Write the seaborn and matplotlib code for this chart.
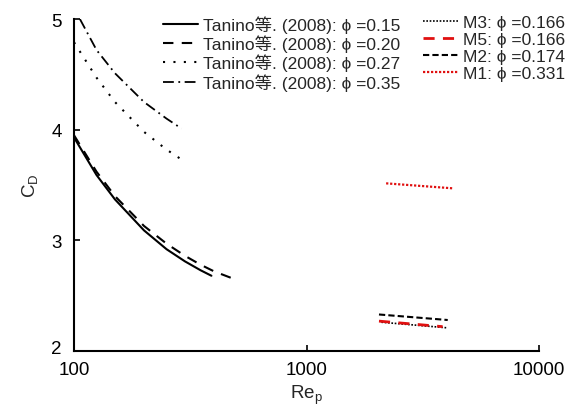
import matplotlib
matplotlib.use("Agg")
import matplotlib.pyplot as plt
import matplotlib.transforms as mtransforms
import seaborn as sns
import pandas as pd

# ---- data ----
re_015 = [100, 125, 150, 200, 250, 300, 350, 390]
cd_015 = [3.93, 3.59, 3.37, 3.09, 2.92, 2.81, 2.73, 2.68]

re_020 = [100, 125, 150, 200, 250, 300, 350, 400, 475]
cd_020 = [3.95, 3.62, 3.40, 3.13, 2.97, 2.86, 2.78, 2.72, 2.66]

re_027 = [100, 125, 150, 200, 250, 300]
cd_027 = [4.79, 4.47, 4.25, 3.98, 3.82, 3.71]

re_035 = [106, 125, 150, 200, 250, 290]
cd_035 = [5.00, 4.72, 4.51, 4.25, 4.10, 4.01]

re_m3 = [2100, 4000]
cd_m3 = [2.26, 2.21]

re_m5 = [2050, 3850]
cd_m5 = [2.27, 2.22]

re_m2 = [2050, 4050]
cd_m2 = [2.33, 2.28]

re_m1 = [2200, 4250]
cd_m1 = [3.515, 3.47]

x_ticks = [100, 1000, 10000]
x_tick_labels = ["100", "1000", "10000"]
y_ticks = [2, 3, 4, 5]

sns.set_theme(style="ticks")
plt.rcParams['font.family'] = ['Liberation Sans', 'Noto Sans CJK SC', 'DejaVu Sans']
plt.rcParams['mathtext.fontset'] = 'custom'
plt.rcParams['mathtext.rm'] = 'Liberation Sans'
plt.rcParams['mathtext.it'] = 'Liberation Sans:italic'
plt.rcParams['mathtext.sf'] = 'Liberation Sans'

fig = plt.figure(figsize=(5.78, 4.06), dpi=100)
ax = fig.add_axes([74/578, 1-352/406, (539-74)/578, (352-20)/406])

PHI = "\u03d5"
series = [
    (re_015, cd_015, f"Tanino等. (2008): {PHI} =0.15", dict(color='black', lw=1.5, ls='-')),
    (re_020, cd_020, f"Tanino等. (2008): {PHI} =0.20", dict(color='black', lw=1.5, ls=(0, (5, 4)))),
    (re_027, cd_027, f"Tanino等. (2008): {PHI} =0.27", dict(color='black', lw=1.5, ls=(0, (1, 4)))),
    (re_035, cd_035, f"Tanino等. (2008): {PHI} =0.35", dict(color='black', lw=1.3, ls=(0, (6, 2.5, 1, 2.5)))),
    (re_m3, cd_m3, f"M3: {PHI} =0.166", dict(color='black', lw=1.2, ls=(0, (1, 1)))),
    (re_m5, cd_m5, f"M5: {PHI} =0.166", dict(color='#e01010', lw=2.0, ls=(0, (4, 3)))),
    (re_m2, cd_m2, f"M2: {PHI} =0.174", dict(color='black', lw=1.5, ls=(0, (3, 1.5)))),
    (re_m1, cd_m1, f"M1: {PHI} =0.331", dict(color='#e01010', lw=1.6, ls=(0, (1, 0.8)))),
]

for xs, ys, lab, st in series:
    df = pd.DataFrame({"Re": xs, "CD": ys})
    sns.lineplot(data=df, x="Re", y="CD", ax=ax, label=lab, sort=False, **st)

ax.set_xscale('log')
ax.set_xlim(100, 10000)
ax.set_ylim(2, 5)
ax.set_xticks(x_ticks)
ax.set_xticklabels(x_tick_labels)
ax.set_yticks(y_ticks)
ax.minorticks_off()
ax.tick_params(axis='both', direction='in', length=4, width=1.2, labelsize=13.5, colors='black')
ax.tick_params(axis='x', pad=7)
ax.tick_params(axis='y', pad=9)
for s in ['top', 'right']:
    ax.spines[s].set_visible(False)
for s in ['left', 'bottom']:
    ax.spines[s].set_linewidth(1.5)
    ax.spines[s].set_color('black')

# nudge the lowest y tick label upward (as in the reference)
fig.canvas.draw()
ylabs = ax.get_yticklabels()
ylabs[0].set_transform(ylabs[0].get_transform() + mtransforms.ScaledTranslation(0, 5/100, fig.dpi_scale_trans))

ax.set_xlabel(r"Re$_\mathrm{p}$", fontsize=13.5, labelpad=4)
ax.set_ylabel(r"$\mathrm{C_D}$", fontsize=13.5, labelpad=8)

h, l = ax.get_legend_handles_labels()
if ax.get_legend():
    ax.get_legend().remove()
kw = dict(loc='upper left', frameon=False, fontsize=12.5, handlelength=2.0, handletextpad=0.3,
          labelspacing=0.1, borderpad=0, borderaxespad=0)
fig.legend(h[:4], l[:4], bbox_to_anchor=(163/578, 1-16/406), **kw)
fig.legend(h[4:], l[4:], bbox_to_anchor=(423/578, 1-16/406), **kw)

fig.savefig("out.png", dpi=100)
